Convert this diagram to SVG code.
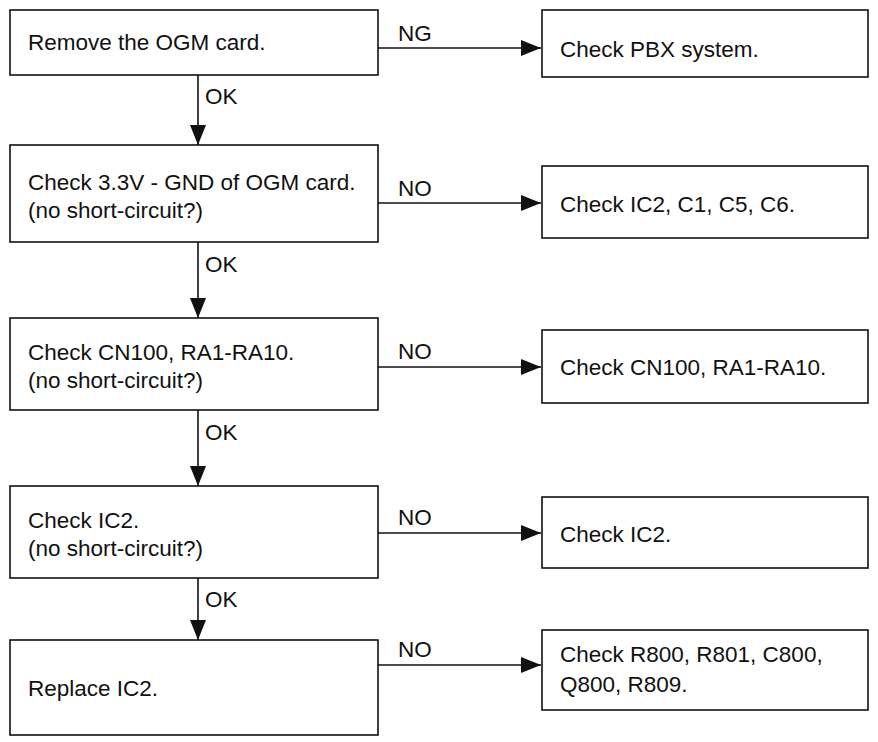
<svg xmlns="http://www.w3.org/2000/svg" width="878" height="742" viewBox="0 0 878 742">
<style>
rect{fill:#fff;stroke:#111;stroke-width:1.6}
text{font-family:"Liberation Sans",Arial,sans-serif;font-size:22.5px;fill:#111}
.c line{stroke:#111;stroke-width:1.6}
</style>
<defs><marker id="b" markerWidth="20" markerHeight="16" refX="20" refY="8" orient="auto" markerUnits="userSpaceOnUse" viewBox="0 0 20 16"><path d="M0,0L20,8L0,16z" fill="#111"/></marker></defs>
<rect fill="#fff" style="stroke:none" x="0" y="0" width="878" height="742"/>
<g id="n1"><rect x="10" y="10" width="368" height="65"/><text x="28" y="50">Remove the OGM card.</text></g>
<g id="n2"><rect x="10" y="145" width="368" height="97"/><text x="28" y="190">Check 3.3V - GND of OGM card.</text><text x="28" y="218">(no short-circuit?)</text></g>
<g id="n3"><rect x="10" y="318" width="368" height="92"/><text x="28" y="360">Check CN100, RA1-RA10.</text><text x="28" y="388">(no short-circuit?)</text></g>
<g id="n4"><rect x="10" y="486" width="368" height="92"/><text x="28" y="528">Check IC2.</text><text x="28" y="556">(no short-circuit?)</text></g>
<g id="n5"><rect x="10" y="640" width="368" height="95"/><text x="28" y="696">Replace IC2.</text></g>
<g id="r1"><rect x="542" y="10" width="326" height="67"/><text x="560" y="57">Check PBX system.</text></g>
<g id="r2"><rect x="542" y="166" width="326" height="72"/><text x="560" y="212">Check IC2, C1, C5, C6.</text></g>
<g id="r3"><rect x="542" y="330" width="326" height="73"/><text x="560" y="375">Check CN100, RA1-RA10.</text></g>
<g id="r4"><rect x="542" y="497" width="326" height="71"/><text x="560" y="542">Check IC2.</text></g>
<g id="r5"><rect x="542" y="630" width="326" height="80"/><text x="560" y="662">Check R800, R801, C800,</text><text x="560" y="692">Q800, R809.</text></g>
<g class="c">
<line x1="378" y1="48" x2="541" y2="48" marker-end="url(#b)"/>
<line x1="378" y1="203" x2="541" y2="203" marker-end="url(#b)"/>
<line x1="378" y1="367" x2="541" y2="367" marker-end="url(#b)"/>
<line x1="378" y1="533" x2="541" y2="533" marker-end="url(#b)"/>
<line x1="378" y1="665" x2="541" y2="665" marker-end="url(#b)"/>
<line x1="198" y1="75" x2="198" y2="145" marker-end="url(#b)"/>
<line x1="198" y1="242" x2="198" y2="318" marker-end="url(#b)"/>
<line x1="198" y1="410" x2="198" y2="486" marker-end="url(#b)"/>
<line x1="198" y1="578" x2="198" y2="640" marker-end="url(#b)"/>
</g>
<g id="labels">
<text x="398" y="41">NG</text><text x="398" y="196">NO</text><text x="398" y="359">NO</text><text x="398" y="525">NO</text><text x="398" y="657">NO</text>
<text x="205" y="104">OK</text><text x="205" y="272">OK</text><text x="205" y="440">OK</text><text x="205" y="607">OK</text>
</g>
</svg>
